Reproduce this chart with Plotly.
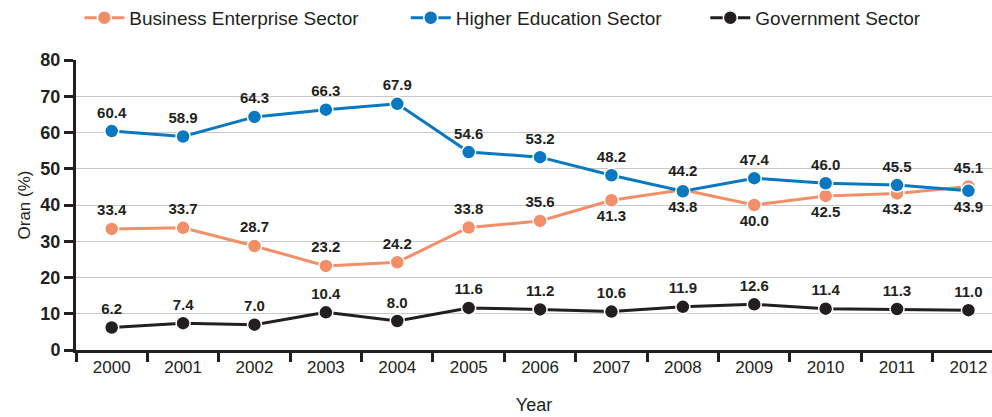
import plotly.graph_objects as go

years = ["2000", "2001", "2002", "2003", "2004", "2005", "2006",
         "2007", "2008", "2009", "2010", "2011", "2012"]
business = [33.4, 33.7, 28.7, 23.2, 24.2, 33.8, 35.6, 41.3, 44.2, 40.0, 42.5, 43.2, 45.1]
higher_ed = [60.4, 58.9, 64.3, 66.3, 67.9, 54.6, 53.2, 48.2, 43.8, 47.4, 46.0, 45.5, 43.9]
government = [6.2, 7.4, 7.0, 10.4, 8.0, 11.6, 11.2, 10.6, 11.9, 12.6, 11.4, 11.3, 11.0]

T, B = "top center", "bottom center"
business_pos = [T] * 7 + [B, T, B, B, B, T]
higher_pos = [T] * 8 + [B, T, T, T, B]
government_pos = [T] * 13

INK = "#231F20"
LEGEND_FONT = dict(family="Liberation Sans, Arial", size=19, color=INK)

# one legend per series so each entry can sit at its own spot along the top
series = [
    ("Business Enterprise Sector", business, "#F38F68", business_pos, "legend", 0.080),
    ("Higher Education Sector", higher_ed, "#0878C0", higher_pos, "legend2", 0.409),
    ("Government Sector", government, "#231F20", government_pos, "legend3", 0.711),
]

fig = go.Figure()
legends = {}
for name, vals, color, pos, leg, lx in series:
    fig.add_trace(go.Scatter(
        x=years, y=vals, name=name, mode="lines+markers+text",
        line=dict(color=color, width=3),
        marker=dict(color=color, size=14, line=dict(color="white", width=1.5)),
        text=[f"{v:.1f}" for v in vals], textposition=pos,
        textfont=dict(family="Liberation Sans, Arial", size=15, color=INK, weight="bold"),
        cliponaxis=False, legend=leg,
    ))
    legends[leg] = dict(orientation="h", x=lx, xanchor="left", xref="container",
                        y=0.957, yanchor="middle", yref="container",
                        font=LEGEND_FONT, itemwidth=40, bgcolor="rgba(0,0,0,0)")

fig.update_layout(
    width=992, height=417,
    margin=dict(l=76, r=0, t=60, b=67),
    plot_bgcolor="white", paper_bgcolor="white",
    showlegend=True,
    **legends,
    xaxis=dict(
        type="category", range=[-0.5, 12.33],
        showline=True, linecolor=INK, linewidth=3,
        ticks="outside", tickson="boundaries", ticklen=9, tickwidth=3, tickcolor=INK,
        showgrid=False,
        tickfont=dict(family="Liberation Sans, Arial", size=17, color=INK),
        title=dict(text="Year", font=dict(family="Liberation Sans, Arial", size=18, color=INK), standoff=22),
    ),
    yaxis=dict(
        range=[0, 80], dtick=10,
        showline=True, linecolor=INK, linewidth=3,
        ticks="outside", ticklen=9, tickwidth=3, tickcolor=INK,
        showgrid=True, gridcolor="#C8C8C8", gridwidth=1,
        zeroline=False,
        tickfont=dict(family="Liberation Sans, Arial", size=18, color=INK, weight="bold"),
        title=dict(text="Oran (%)", font=dict(family="Liberation Sans, Arial", size=17, color=INK), standoff=6),
    ),
)

fig.write_html("out.html")
